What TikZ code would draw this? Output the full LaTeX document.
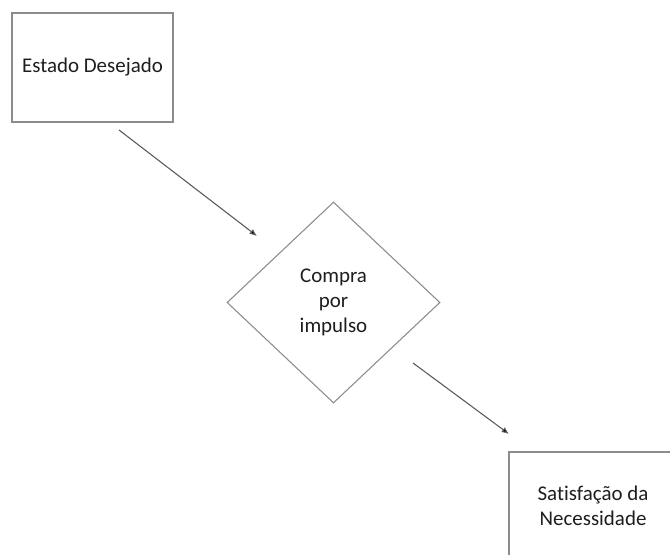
\documentclass[tikz,border=0pt]{standalone}
\usepackage{fontspec}
\setmainfont{Carlito}[Ligatures={NoCommon}]
\usetikzlibrary{shapes.geometric,arrows.meta}
\definecolor{boxline}{HTML}{8C8C8C}
\definecolor{arrline}{HTML}{595959}
\definecolor{txt}{HTML}{1E1E1E}
\tikzset{
  boxnode/.style={draw=boxline, line width=1.1pt, rectangle, inner sep=0pt,
    text=txt, align=center, font=\fontsize{15.7pt}{18.75pt}\selectfont},
  decnode/.style={draw=boxline, line width=0.8pt, diamond, inner sep=0pt,
    text=txt, align=center, font=\fontsize{15.7pt}{18.75pt}\selectfont},
  conn/.style={draw=arrline, line width=0.8pt, -{Latex[length=5.5pt,width=4.5pt,fill=black]}}
}
\begin{document}
\begin{tikzpicture}[x=0.75pt,y=-0.75pt]
\useasboundingbox (0,0) rectangle (670,555);
\clip (0,0) rectangle (670,555);
\fill[white] (0,0) rectangle (670,555);
\node[boxnode, minimum width=120.75pt, minimum height=81.75pt] (estado) at (92.5,67.5) {Estado Desejado};
\node[decnode, minimum width=159.75pt, minimum height=150.75pt] (compra) at (333.5,302.5) {Compra\\por\\impulso};
\node[boxnode, minimum width=126pt, minimum height=81pt] (satisf) at (593,506) {Satisfação da\\Necessidade};
\coordinate (a1s) at (119,130);
\coordinate (a1e) at (257,236);
\coordinate (a2s) at (413,363);
\coordinate (a2e) at (509,434);
\draw[conn] (a1s) -- (a1e);
\draw[conn] (a2s) -- (a2e);
\end{tikzpicture}
\end{document}
